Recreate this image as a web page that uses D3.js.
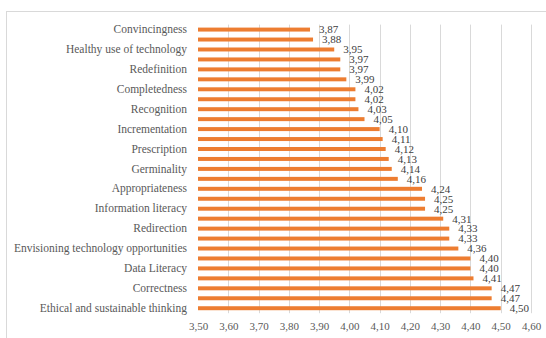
<!DOCTYPE html>
<html>
<head>
<meta charset="utf-8">
<script src="https://cdn.jsdelivr.net/npm/d3@7"></script>
<style>
  html, body { margin: 0; padding: 0; background: #fff; }
  svg { display: block; }
  text { font-family: "Liberation Serif", "Times New Roman", serif; }
</style>
</head>
<body>
<svg id="chart" width="546" height="338"></svg>
<script>
// Mean scores, top to bottom (29 items)
const values = [3.87, 3.88, 3.95, 3.97, 3.97, 3.99, 4.02, 4.02, 4.03, 4.05,
                4.10, 4.11, 4.12, 4.13, 4.14, 4.16, 4.24, 4.25, 4.25, 4.31,
                4.33, 4.33, 4.36, 4.40, 4.40, 4.41, 4.47, 4.47, 4.50];

// Category names shown on the axis (every other item is labelled)
const labels = ["Convincingness", "Healthy use of technology", "Redefinition",
                "Completedness", "Recognition", "Incrementation", "Prescription",
                "Germinality", "Appropriateness", "Information literacy",
                "Redirection", "Envisioning technology opportunities",
                "Data Literacy", "Correctness", "Ethical and sustainable thinking"];

// X axis ticks
const xTicks = [3.5, 3.6, 3.7, 3.8, 3.9, 4.0, 4.1, 4.2, 4.3, 4.4, 4.5, 4.6];

const svg = d3.select("#chart");
const textColor = "#595959";
const fmt = v => d3.format(".2f")(v).replace(".", ",");

// chart frame
svg.append("rect")
  .attr("x", 6.5).attr("y", 11.5)
  .attr("width", 546).attr("height", 340)
  .attr("fill", "#fff")
  .attr("stroke", "#d9d9d9").attr("stroke-width", 1);

const x = d3.scaleLinear().domain([3.5, 4.6]).range([198, 531]);
const y = d3.scaleBand().domain(d3.range(values.length))
  .range([24.6, 313.2]).paddingInner(0.6).paddingOuter(0.3);

// vertical gridlines
svg.append("g")
  .selectAll("line")
  .data(xTicks.slice(1))
  .join("line")
  .attr("x1", d => Math.round(x(d)) + 0.5).attr("x2", d => Math.round(x(d)) + 0.5)
  .attr("y1", 24.6).attr("y2", 313.2)
  .attr("stroke", "#d9d9d9").attr("stroke-width", 1);

// bars
svg.append("g")
  .selectAll("rect")
  .data(values)
  .join("rect")
  .attr("x", x(3.5))
  .attr("y", (d, i) => y(i))
  .attr("width", d => x(d) - x(3.5))
  .attr("height", y.bandwidth())
  .attr("fill", "#ED7D31");

// value labels
svg.append("g")
  .selectAll("text")
  .data(values)
  .join("text")
  .attr("x", d => x(d) + 9)
  .attr("y", (d, i) => y(i) + y.bandwidth() / 2)
  .attr("dy", "0.35em")
  .attr("font-size", 11)
  .attr("fill", "#404040")
  .text(fmt);

// category axis
const yAxis = d3.axisLeft(y)
  .tickValues(d3.range(0, values.length, 2))
  .tickFormat(i => labels[i / 2])
  .tickSize(0).tickPadding(11);
const gy = svg.append("g").attr("transform", `translate(${x(3.5)},0)`).call(yAxis);
gy.select(".domain").remove();
gy.selectAll("text").attr("font-size", 11.5).attr("fill", textColor)
  .attr("font-family", "Liberation Serif, Times New Roman, serif");

// value axis
const xAxis = d3.axisBottom(x).tickValues(xTicks).tickFormat(v => fmt(v))
  .tickSize(0).tickPadding(9);
const gx = svg.append("g").attr("transform", "translate(0,313.2)").call(xAxis);
gx.select(".domain").remove();
gx.selectAll("text").attr("font-size", 11).attr("fill", textColor)
  .attr("font-family", "Liberation Serif, Times New Roman, serif");
</script>
</body>
</html>
